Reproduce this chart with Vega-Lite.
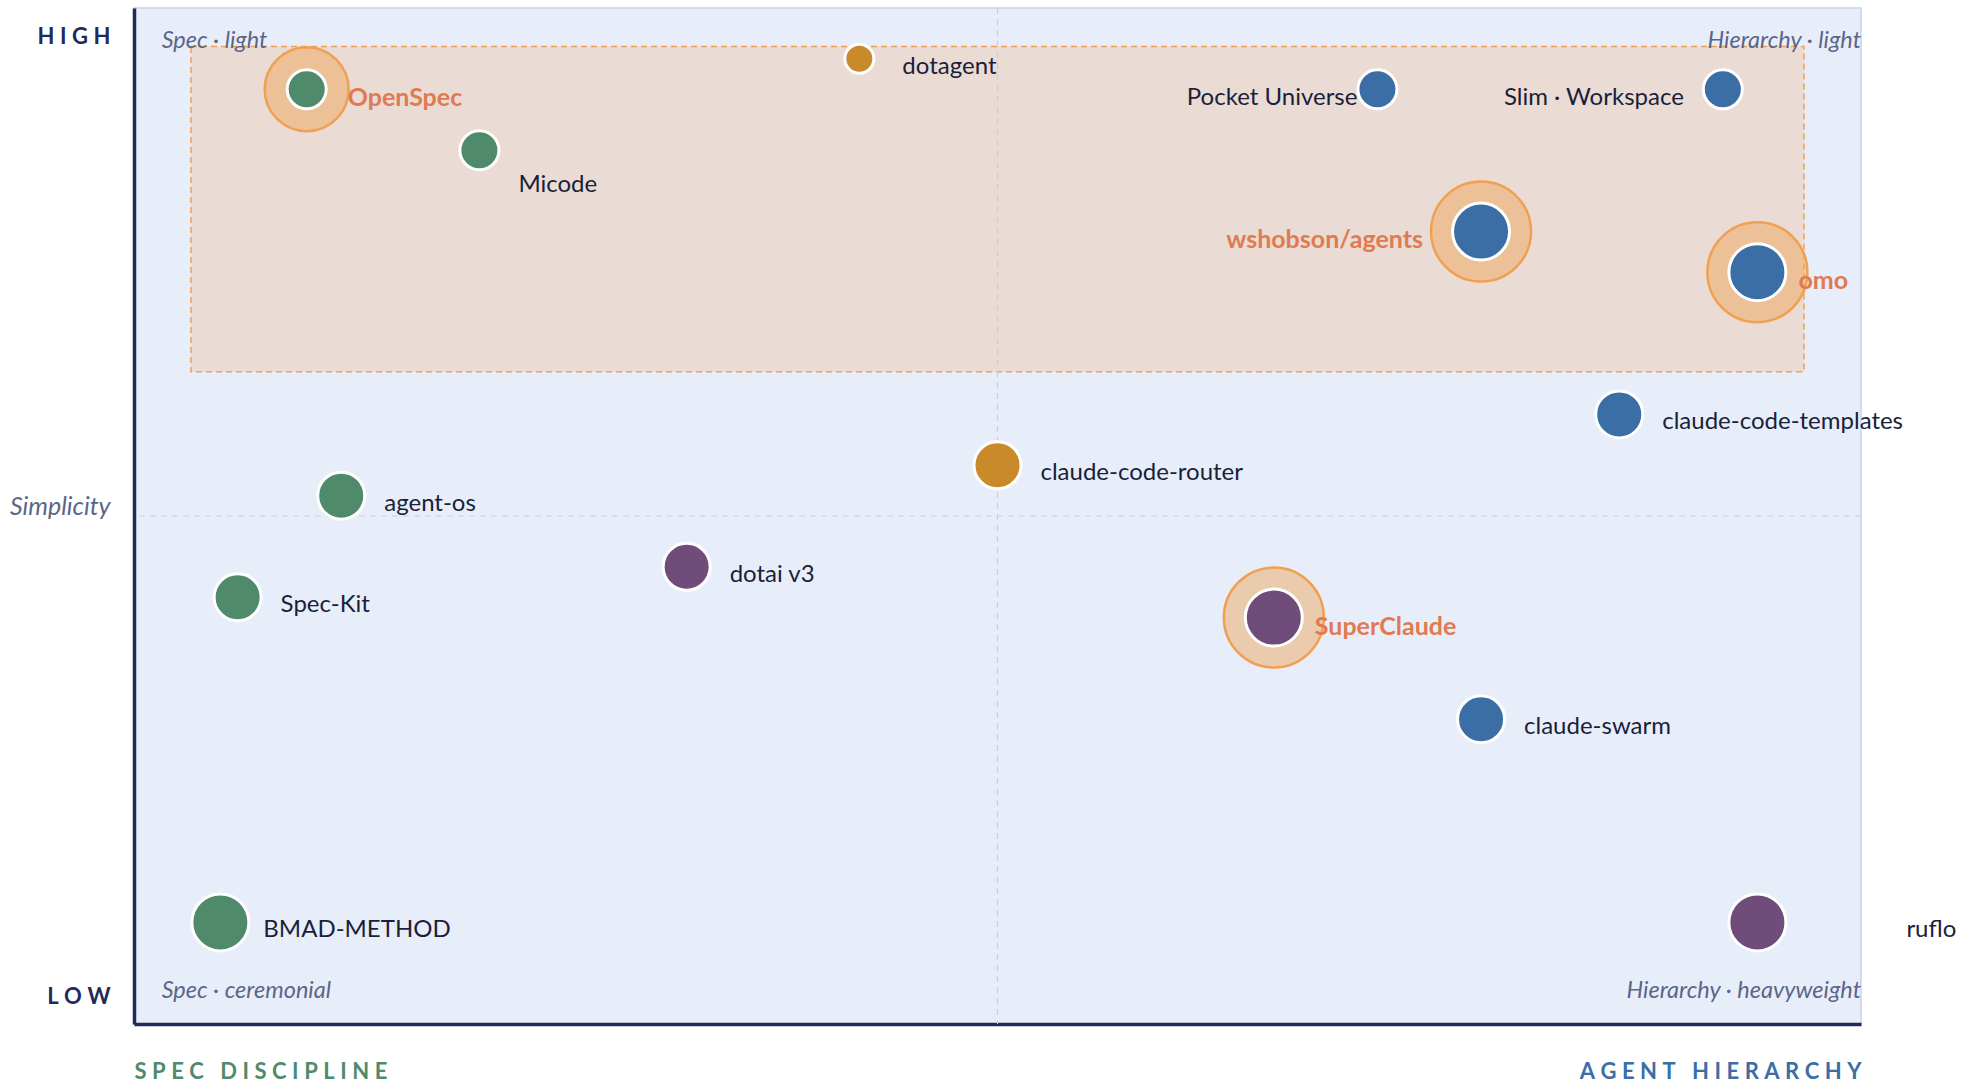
{
  "$schema": "https://vega.github.io/schema/vega-lite/v6.json",
  "width": 1727,
  "height": 1016,
  "autosize": {"type": "none"},
  "padding": {"left": 134, "top": 8, "right": 103, "bottom": 60},
  "background": "#ffffff",
  "config": {
    "view": {"fill": "#e8eef9", "stroke": "#c6d3ea", "strokeWidth": 1.5},
    "font": "Lato"
  },
  "datasets": {
    "tools": [
      {"name": "OpenSpec", "orientation": 1.0, "simplicity": 9.2, "family": "Spec-driven", "tier": 2, "featured": true},
      {"name": "Micode", "orientation": 2.0, "simplicity": 8.6, "family": "Spec-driven", "tier": 2, "featured": false},
      {"name": "dotagent", "orientation": 4.2, "simplicity": 9.5, "family": "Routing", "tier": 1, "featured": false},
      {"name": "Pocket Universe", "orientation": 7.2, "simplicity": 9.2, "family": "Hierarchy", "tier": 2, "featured": false},
      {"name": "Slim · Workspace", "orientation": 9.2, "simplicity": 9.2, "family": "Hierarchy", "tier": 2, "featured": false},
      {"name": "wshobson/agents", "orientation": 7.8, "simplicity": 7.8, "family": "Hierarchy", "tier": 4, "featured": true},
      {"name": "omo", "orientation": 9.4, "simplicity": 7.4, "family": "Hierarchy", "tier": 4, "featured": true},
      {"name": "claude-code-templates", "orientation": 8.6, "simplicity": 6.0, "family": "Hierarchy", "tier": 3, "featured": false},
      {"name": "claude-code-router", "orientation": 5.0, "simplicity": 5.5, "family": "Routing", "tier": 3, "featured": false},
      {"name": "agent-os", "orientation": 1.2, "simplicity": 5.2, "family": "Spec-driven", "tier": 3, "featured": false},
      {"name": "dotai v3", "orientation": 3.2, "simplicity": 4.5, "family": "Hybrid", "tier": 3, "featured": false},
      {"name": "Spec-Kit", "orientation": 0.6, "simplicity": 4.2, "family": "Spec-driven", "tier": 3, "featured": false},
      {"name": "SuperClaude", "orientation": 6.6, "simplicity": 4.0, "family": "Hybrid", "tier": 4, "featured": true},
      {"name": "claude-swarm", "orientation": 7.8, "simplicity": 3.0, "family": "Hierarchy", "tier": 3, "featured": false},
      {"name": "BMAD-METHOD", "orientation": 0.5, "simplicity": 1.0, "family": "Spec-driven", "tier": 4, "featured": false},
      {"name": "ruflo", "orientation": 9.4, "simplicity": 1.0, "family": "Hybrid", "tier": 4, "featured": false}
    ],
    "zone": [
      {"orientation": 0.33, "orientation2": 9.67, "simplicity": 6.42, "simplicity2": 9.62}
    ],
    "mid": [{"mid": 5}],
    "corners": [
      {"text": "Spec · light", "orientation": 0.16, "simplicity": 9.68},
      {"text": "Spec · ceremonial", "orientation": 0.16, "simplicity": 0.32},
      {"text": "Hierarchy · light", "orientation": 10, "simplicity": 9.68},
      {"text": "Hierarchy · heavyweight", "orientation": 10, "simplicity": 0.32}
    ]
  },
  "resolve": {"scale": {"size": "independent"}},
  "layer": [
    {
      "data": {"name": "zone"},
      "mark": {"type": "rect", "fill": "#f0a050", "fillOpacity": 0.22, "stroke": "#f0a050", "strokeWidth": 1.5, "strokeDash": [6, 4]},
      "encoding": {
        "x": {
          "field": "orientation", "type": "quantitative", "title": null,
          "scale": {"domain": [0, 10], "nice": false, "zero": false},
          "axis": {
            "values": [0, 10],
            "labelExpr": "datum.value < 5 ? 'S\u2005P\u2005E\u2005C\u2005 \u2005D\u2005I\u2005S\u2005C\u2005I\u2005P\u2005L\u2005I\u2005N\u2005E' : 'A\u2005G\u2005E\u2005N\u2005T\u2005 \u2005H\u2005I\u2005E\u2005R\u2005A\u2005R\u2005C\u2005H\u2005Y'",
            "labelAlign": {"condition": {"test": "datum.value < 5", "value": "left"}, "value": "right"},
            "labelColor": {"condition": {"test": "datum.value < 5", "value": "#4f8a6b"}, "value": "#3b6ea5"},
            "labelFontWeight": "bold",
            "labelFontSize": 22,
            "labelPadding": 37,
            "labelBaseline": "top",
            "labelLimit": 0,
            "ticks": false,
            "tickSize": 0,
            "grid": false,
            "labelFlush": false,
            "labelOverlap": false,
            "labelBound": false,
            "domainColor": "#1f2a5c",
            "domainWidth": 3.5
          }
        },
        "x2": {"field": "orientation2"},
        "y": {
          "field": "simplicity", "type": "quantitative", "title": null,
          "scale": {"domain": [0, 10], "nice": false, "zero": false},
          "axis": {
            "values": [0.27, 5.09, 9.72],
            "labelExpr": "datum.value > 9 ? 'H\u2005I\u2005G\u2005H' : datum.value < 1 ? 'L\u2005O\u2005W' : 'Simplicity'",
            "labelFontStyle": {"condition": {"test": "datum.value > 1 && datum.value < 9", "value": "italic"}, "value": "normal"},
            "labelFontWeight": {"condition": {"test": "datum.value > 1 && datum.value < 9", "value": "normal"}, "value": "bold"},
            "labelColor": {"condition": {"test": "datum.value > 1 && datum.value < 9", "value": "#5b6688"}, "value": "#1f2a5c"},
            "labelFontSize": {"condition": {"test": "datum.value > 1 && datum.value < 9", "value": 25}, "value": 22},
            "labelPadding": 24,
            "labelAlign": "right",
            "labelBaseline": "middle",
            "labelLimit": 0,
            "ticks": false,
            "tickSize": 0,
            "grid": false,
            "labelOverlap": false,
            "labelBound": false,
            "labelFlush": false,
            "domainColor": "#1f2a5c",
            "domainWidth": 3.5
          }
        },
        "y2": {"field": "simplicity2"}
      }
    },
    {
      "data": {"name": "mid"},
      "mark": {"type": "rule", "stroke": "#c8cedc", "strokeWidth": 1.2, "strokeDash": [6, 5]},
      "encoding": {"x": {"field": "mid", "type": "quantitative", "title": null}}
    },
    {
      "data": {"name": "mid"},
      "mark": {"type": "rule", "stroke": "#c8cedc", "strokeWidth": 1.2, "strokeDash": [6, 5]},
      "encoding": {"y": {"field": "mid", "type": "quantitative", "title": null}}
    },
    {
      "data": {"name": "tools"},
      "transform": [{"filter": "datum.featured"}],
      "mark": {"type": "circle", "fill": "#f0a050", "fillOpacity": 0.45, "stroke": "#f0a050", "strokeWidth": 2.5, "strokeOpacity": 1},
      "encoding": {
        "x": {"field": "orientation", "type": "quantitative", "title": null},
        "y": {"field": "simplicity", "type": "quantitative", "title": null},
        "size": {"field": "tier", "type": "quantitative", "legend": null, "scale": {"type": "threshold", "domain": [3], "range": [7056, 10000]}}
      }
    },
    {
      "data": {"name": "tools"},
      "mark": {"type": "circle", "opacity": 1, "stroke": "#ffffff", "strokeWidth": 3},
      "encoding": {
        "x": {"field": "orientation", "type": "quantitative", "title": null},
        "y": {"field": "simplicity", "type": "quantitative", "title": null},
        "color": {"field": "family", "type": "nominal", "legend": null, "scale": {"domain": ["Spec-driven", "Hierarchy", "Routing", "Hybrid"], "range": ["#4f8a6b", "#3b6ea5", "#c98a2a", "#6f4c7a"]}},
        "size": {"field": "tier", "type": "quantitative", "legend": null, "scale": {"type": "threshold", "domain": [1.5, 2.5, 3.5], "range": [841, 1521, 2209, 3249]}}
      }
    },
    {
      "data": {"name": "tools"},
      "transform": [{"filter": "!datum.featured && indexof(['Pocket Universe', 'Slim · Workspace', 'Micode', 'ruflo'], datum.name) < 0"}],
      "mark": {"type": "text", "align": "left", "baseline": "middle", "dx": 43, "dy": 8, "fontSize": 24, "color": "#1a1f3a"},
      "encoding": {
        "x": {"field": "orientation", "type": "quantitative", "title": null},
        "y": {"field": "simplicity", "type": "quantitative", "title": null},
        "text": {"field": "name"}
      }
    },
    {
      "data": {"name": "tools"},
      "transform": [{"filter": "datum.name == 'Pocket Universe'"}],
      "mark": {"type": "text", "align": "right", "baseline": "middle", "dx": -20, "dy": 9, "fontSize": 24, "color": "#1a1f3a"},
      "encoding": {
        "x": {"field": "orientation", "type": "quantitative", "title": null},
        "y": {"field": "simplicity", "type": "quantitative", "title": null},
        "text": {"field": "name"}
      }
    },
    {
      "data": {"name": "tools"},
      "transform": [{"filter": "datum.name == 'Slim · Workspace'"}],
      "mark": {"type": "text", "align": "right", "baseline": "middle", "dx": -39, "dy": 9, "fontSize": 24, "color": "#1a1f3a"},
      "encoding": {
        "x": {"field": "orientation", "type": "quantitative", "title": null},
        "y": {"field": "simplicity", "type": "quantitative", "title": null},
        "text": {"field": "name"}
      }
    },
    {
      "data": {"name": "tools"},
      "transform": [{"filter": "datum.name == 'Micode'"}],
      "mark": {"type": "text", "align": "left", "baseline": "middle", "dx": 39, "dy": 35, "fontSize": 24, "color": "#1a1f3a"},
      "encoding": {
        "x": {"field": "orientation", "type": "quantitative", "title": null},
        "y": {"field": "simplicity", "type": "quantitative", "title": null},
        "text": {"field": "name"}
      }
    },
    {
      "data": {"name": "tools"},
      "transform": [{"filter": "datum.name == 'ruflo'"}],
      "mark": {"type": "text", "align": "left", "baseline": "middle", "dx": 149, "dy": 8, "fontSize": 24, "color": "#1a1f3a"},
      "encoding": {
        "x": {"field": "orientation", "type": "quantitative", "title": null},
        "y": {"field": "simplicity", "type": "quantitative", "title": null},
        "text": {"field": "name"}
      }
    },
    {
      "data": {"name": "tools"},
      "transform": [{"filter": "datum.featured && datum.name != 'wshobson/agents'"}],
      "mark": {"type": "text", "align": "left", "baseline": "middle", "dx": 41, "dy": 9, "fontSize": 25, "fontWeight": "bold", "color": "#e07a50"},
      "encoding": {
        "x": {"field": "orientation", "type": "quantitative", "title": null},
        "y": {"field": "simplicity", "type": "quantitative", "title": null},
        "text": {"field": "name"}
      }
    },
    {
      "data": {"name": "tools"},
      "transform": [{"filter": "datum.name == 'wshobson/agents'"}],
      "mark": {"type": "text", "align": "right", "baseline": "middle", "dx": -58, "dy": 8, "fontSize": 25, "fontWeight": "bold", "color": "#e07a50"},
      "encoding": {
        "x": {"field": "orientation", "type": "quantitative", "title": null},
        "y": {"field": "simplicity", "type": "quantitative", "title": null},
        "text": {"field": "name"}
      }
    },
    {
      "data": {"name": "corners"},
      "transform": [{"filter": "datum.orientation < 5"}],
      "mark": {"type": "text", "align": "left", "baseline": "middle", "fontSize": 23.5, "fontStyle": "italic", "color": "#5b6688"},
      "encoding": {
        "x": {"field": "orientation", "type": "quantitative", "title": null},
        "y": {"field": "simplicity", "type": "quantitative", "title": null},
        "text": {"field": "text"}
      }
    },
    {
      "data": {"name": "corners"},
      "transform": [{"filter": "datum.orientation > 5"}],
      "mark": {"type": "text", "align": "right", "baseline": "middle", "fontSize": 23.5, "fontStyle": "italic", "color": "#5b6688"},
      "encoding": {
        "x": {"field": "orientation", "type": "quantitative", "title": null},
        "y": {"field": "simplicity", "type": "quantitative", "title": null},
        "text": {"field": "text"}
      }
    }
  ]
}
